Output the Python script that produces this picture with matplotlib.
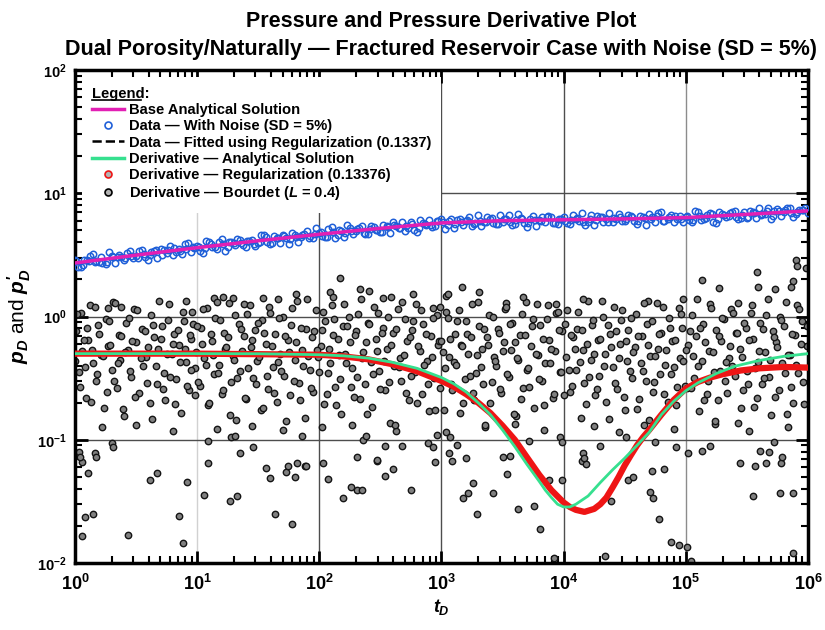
import numpy as np
import matplotlib
matplotlib.use("Agg")
import matplotlib.pyplot as plt
from matplotlib.lines import Line2D
from matplotlib.ticker import LogLocator, NullFormatter, LogFormatterSciNotation

plt.rcParams["font.family"] = ["Liberation Sans", "DejaVu Sans"]
plt.rcParams["font.weight"] = "bold"
plt.rcParams["mathtext.fontset"] = "custom"
plt.rcParams["mathtext.rm"] = "Liberation Sans:bold"
plt.rcParams["mathtext.it"] = "Liberation Sans:bold:italic"
plt.rcParams["mathtext.bf"] = "Liberation Sans:bold"

x_ticks = [1e0, 1e1, 1e2, 1e3, 1e4, 1e5, 1e6]
y_ticks = [1e-2, 1e-1, 1e0, 1e1, 1e2]

# base analytical pD (log10 tD, pD)
base_t_exp = [0.0, 0.5, 1.0, 1.5, 2.0, 2.5, 3.0, 3.5, 4.0, 4.5, 5.0, 5.5, 6.0]
base_pd = [2.72, 3.15, 3.62, 4.12, 4.65, 5.2, 5.75, 6.0, 6.1, 6.2, 6.35, 6.75, 7.2]

# noisy data (log10 tD, pD), three interleaved sets
data_t_exp = [0.00, 0.05, 0.10, 0.15, 0.20, 0.25, 0.30, 0.35, 0.40, 0.45,
              0.50, 0.55, 0.60, 0.65, 0.70, 0.75, 0.80, 0.85, 0.90, 0.95,
              1.00, 1.05, 1.10, 1.15, 1.20, 1.25, 1.30, 1.35, 1.40, 1.45,
              1.50, 1.55, 1.60, 1.65, 1.70, 1.75, 1.80, 1.85, 1.90, 1.95,
              2.00, 2.05, 2.10, 2.15, 2.20, 2.25, 2.30, 2.35, 2.40, 2.45,
              2.50, 2.55, 2.60, 2.65, 2.70, 2.75, 2.80, 2.85, 2.90, 2.95,
              3.00, 3.05, 3.10, 3.15, 3.20, 3.25, 3.30, 3.35, 3.40, 3.45,
              3.50, 3.55, 3.60, 3.65, 3.70, 3.75, 3.80, 3.85, 3.90, 3.95,
              4.00, 4.05, 4.10, 4.15, 4.20, 4.25, 4.30, 4.35, 4.40, 4.45,
              4.50, 4.55, 4.60, 4.65, 4.70, 4.75, 4.80, 4.85, 4.90, 4.95,
              5.00, 5.05, 5.10, 5.15, 5.20, 5.25, 5.30, 5.35, 5.40, 5.45,
              5.50, 5.55, 5.60, 5.65, 5.70, 5.75, 5.80, 5.85, 5.90, 5.95, 6.00]
data_pd = [2.88, 2.54, 2.87, 3.19, 2.77, 2.65, 3.10, 3.02, 2.88, 3.42,
           3.09, 3.46, 2.85, 3.42, 3.54, 3.25, 3.16, 3.55, 3.88, 3.36,
           3.76, 3.30, 4.02, 3.69, 4.28, 3.64, 3.92, 4.21, 3.70, 4.15,
           3.96, 4.59, 3.89, 4.37, 4.59, 3.86, 4.62, 4.40, 4.90, 4.32,
           4.74, 4.43, 5.33, 4.63, 4.38, 5.23, 4.98, 5.44, 4.68, 5.36,
           4.89, 5.47, 5.84, 5.26, 4.99, 5.81, 4.87, 5.70, 6.09, 5.47,
           6.21, 5.55, 5.22, 6.18, 5.97, 5.41, 6.61, 5.81, 6.19, 5.62,
           5.88, 6.61, 5.66, 6.27, 5.32, 6.53, 6.06, 5.83, 6.44, 5.60,
           6.47, 5.62, 6.24, 6.86, 5.89, 5.54, 6.44, 6.17, 5.83, 6.81,
           5.95, 6.59, 5.61, 6.38, 6.76, 5.90, 7.04, 6.18, 5.81, 6.59,
           6.48, 5.88, 7.07, 6.21, 6.90, 5.76, 6.85, 6.50, 7.20, 6.31,
           6.35, 7.07, 7.66, 6.75, 6.24, 7.40, 7.02, 7.64, 6.83, 7.30, 6.91]
data2_t_exp = [0.025, 0.075, 0.125, 0.175, 0.225, 0.275, 0.325, 0.375, 0.425, 0.475,
               0.525, 0.575, 0.625, 0.675, 0.725, 0.775, 0.825, 0.875, 0.925, 0.975,
               1.025, 1.075, 1.125, 1.175, 1.225, 1.275, 1.325, 1.375, 1.425, 1.475,
               1.525, 1.575, 1.625, 1.675, 1.725, 1.775, 1.825, 1.875, 1.925, 1.975,
               2.025, 2.075, 2.125, 2.175, 2.225, 2.275, 2.325, 2.375, 2.425, 2.475,
               2.525, 2.575, 2.625, 2.675, 2.725, 2.775, 2.825, 2.875, 2.925, 2.975,
               3.025, 3.075, 3.125, 3.175, 3.225, 3.275, 3.325, 3.375, 3.425, 3.475,
               3.525, 3.575, 3.625, 3.675, 3.725, 3.775, 3.825, 3.875, 3.925, 3.975,
               4.025, 4.075, 4.125, 4.175, 4.225, 4.275, 4.325, 4.375, 4.425, 4.475,
               4.525, 4.575, 4.625, 4.675, 4.725, 4.775, 4.825, 4.875, 4.925, 4.975,
               5.025, 5.075, 5.125, 5.175, 5.225, 5.275, 5.325, 5.375, 5.425, 5.475,
               5.525, 5.575, 5.625, 5.675, 5.725, 5.775, 5.825, 5.875, 5.925, 5.975]
data2_pd = [2.52, 2.89, 3.11, 2.81, 2.74, 3.32, 2.70, 3.04, 3.26, 3.00,
            3.42, 3.03, 3.34, 2.98, 3.49, 3.75, 3.32, 3.22, 3.98, 3.60,
            3.43, 4.07, 3.68, 4.03, 3.39, 4.06, 4.27, 3.84, 4.13, 3.77,
            4.57, 4.03, 4.51, 3.97, 4.36, 4.76, 4.02, 4.70, 4.48, 5.19,
            4.49, 5.12, 4.31, 4.95, 5.49, 4.66, 5.21, 4.66, 5.43, 5.08,
            5.54, 4.76, 5.45, 5.83, 5.23, 5.07, 6.12, 5.51, 5.33, 5.96,
            5.18, 6.14, 6.04, 5.49, 6.45, 5.77, 5.44, 6.42, 5.72, 6.71,
            6.24, 5.53, 6.74, 5.79, 6.16, 5.45, 6.42, 6.56, 5.72, 6.21,
            5.73, 6.72, 5.98, 5.52, 6.61, 6.52, 5.80, 6.88, 6.18, 5.95,
            6.71, 5.97, 6.49, 5.50, 6.40, 6.91, 5.92, 6.69, 6.20, 5.83,
            6.12, 7.18, 6.06, 6.62, 5.88, 7.10, 6.48, 7.05, 6.15, 7.00,
            7.19, 6.27, 6.73, 7.60, 7.24, 6.58, 7.61, 6.38, 7.28, 7.61]
data3_t_exp = [0.012, 0.062, 0.112, 0.162, 0.212, 0.262, 0.312, 0.362, 0.412, 0.462,
               0.512, 0.562, 0.612, 0.662, 0.712, 0.762, 0.812, 0.862, 0.912, 0.962,
               1.012, 1.062, 1.112, 1.162, 1.212, 1.262, 1.312, 1.362, 1.412, 1.462,
               1.512, 1.562, 1.612, 1.662, 1.712, 1.762, 1.812, 1.862, 1.912, 1.962,
               2.012, 2.062, 2.112, 2.162, 2.212, 2.262, 2.312, 2.362, 2.412, 2.462,
               2.512, 2.562, 2.612, 2.662, 2.712, 2.762, 2.812, 2.862, 2.912, 2.962,
               3.012, 3.062, 3.112, 3.162, 3.212, 3.262, 3.312, 3.362, 3.412, 3.462,
               3.512, 3.562, 3.612, 3.662, 3.712, 3.762, 3.812, 3.862, 3.912, 3.962,
               4.012, 4.062, 4.112, 4.162, 4.212, 4.262, 4.312, 4.362, 4.412, 4.462,
               4.512, 4.562, 4.612, 4.662, 4.712, 4.762, 4.812, 4.862, 4.912, 4.962,
               5.012, 5.062, 5.112, 5.162, 5.212, 5.262, 5.312, 5.362, 5.412, 5.462,
               5.512, 5.562, 5.612, 5.662, 5.712, 5.762, 5.812, 5.862, 5.912, 5.962]
data3_pd = [2.80, 2.62, 2.84, 2.79, 3.03, 2.76, 3.04, 3.14, 2.97, 3.11,
            2.99, 3.23, 3.18, 3.45, 3.14, 3.46, 3.57, 3.38, 3.53, 3.68,
            3.66, 3.60, 3.91, 3.54, 3.90, 4.02, 3.80, 3.97, 4.14, 3.87,
            4.04, 4.38, 3.98, 4.37, 4.50, 4.26, 4.44, 4.62, 4.31, 4.65,
            4.88, 4.43, 4.86, 5.01, 4.72, 4.93, 5.13, 4.79, 5.14, 5.05,
            4.89, 5.37, 5.52, 5.21, 5.42, 5.64, 5.25, 5.65, 5.53, 5.99,
            5.87, 6.01, 5.63, 5.83, 6.03, 5.59, 5.96, 5.81, 6.25, 5.62,
            6.24, 5.83, 6.02, 6.21, 5.74, 6.11, 5.94, 6.37, 5.72, 6.21,
            5.92, 6.11, 6.29, 5.80, 6.20, 6.08, 6.48, 5.81, 6.30, 6.44,
            6.20, 6.41, 5.92, 6.31, 6.13, 6.59, 5.91, 6.44, 6.57, 6.15,
            6.54, 6.07, 6.49, 6.34, 6.84, 6.16, 6.72, 6.90, 6.47, 6.71,
            6.41, 6.87, 6.70, 7.23, 6.51, 7.12, 7.30, 6.86, 7.11, 7.37]

# analytical derivative
deriv_t_exp = [0.0, 1.0, 1.5, 2.0, 2.2, 2.4, 2.6, 2.8, 3.0, 3.1, 3.2, 3.3, 3.4, 3.5, 3.6, 3.7,
               3.8, 3.85, 3.9, 3.95, 4.0, 4.05, 4.1, 4.2, 4.3, 4.4, 4.5, 4.6, 4.7, 4.8, 4.9,
               5.0, 5.1, 5.25, 5.4, 5.6, 5.8, 6.0]
deriv_pd = [0.500, 0.500, 0.499, 0.49, 0.48, 0.46, 0.425, 0.38, 0.32, 0.285, 0.245, 0.20, 0.16,
            0.12, 0.088, 0.063, 0.046, 0.039, 0.034, 0.030, 0.0285, 0.0285, 0.030, 0.035, 0.045,
            0.057, 0.071, 0.09, 0.115, 0.16, 0.205, 0.25, 0.29, 0.345, 0.395, 0.44, 0.475, 0.50]

# regularization derivative
reg_t_exp = [0.0, 1.0, 2.0, 2.2, 2.4, 2.6, 2.8, 3.0, 3.1, 3.2, 3.3, 3.4, 3.5, 3.6, 3.7, 3.8,
             3.9, 4.0, 4.05, 4.1, 4.17, 4.25, 4.3, 4.35, 4.4, 4.45, 4.5, 4.55, 4.6, 4.65, 4.7,
             4.8, 4.9, 5.0, 5.1, 5.2, 5.3, 5.45, 5.6, 5.8, 6.0]
reg_pd = [0.50, 0.50, 0.49, 0.475, 0.45, 0.41, 0.36, 0.30, 0.27, 0.235, 0.20, 0.165, 0.13, 0.10,
          0.072, 0.052, 0.039, 0.031, 0.0285, 0.027, 0.026, 0.0275, 0.030, 0.034, 0.041, 0.050,
          0.062, 0.075, 0.09, 0.105, 0.12, 0.16, 0.21, 0.26, 0.295, 0.32, 0.34, 0.365, 0.38,
          0.39, 0.385]

# Bourdet derivative points (log10 tD, log10 p'D)
bourdet_cloud = [
    (0.01, -0.12), (0.03, -0.45), (0.05, 0.03), (0.06, -0.28), (0.09, -0.66), (0.11, -0.19), (0.12, 0.09),
    (0.15, -0.38), (0.17, -0.52), (0.19, -0.07), (0.21, -0.31), (0.24, -0.74), (0.25, -0.02), (0.27, -0.24),
    (0.30, -0.43), (0.31, 0.12), (0.34, -0.58), (0.36, -0.15), (0.37, -0.35), (0.40, -0.81), (0.42, -0.05),
    (0.43, -0.27), (0.46, -0.49), (0.48, 0.06), (0.50, -0.21), (0.52, -0.62), (0.55, -0.10), (0.56, -0.40),
    (0.58, -0.33), (0.61, -0.70), (0.62, 0.01), (0.65, -0.17), (0.67, -0.55), (0.68, -0.26), (0.71, -0.08),
    (0.73, -0.46), (0.74, -0.68), (0.77, 0.10), (0.79, -0.30), (0.81, -0.14), (0.83, -0.51), (0.85, -0.23),
    (0.87, -0.78), (0.89, -0.04), (0.91, -0.37), (0.93, -0.60), (0.95, -0.18), (0.96, 0.04), (0.98, -0.42),
    (0.99, -0.29),
    (1.02, -0.56), (1.03, -0.09), (1.06, -0.34), (1.08, 0.07), (1.09, -0.72), (1.12, -0.20), (1.14, -0.47),
    (1.15, -0.01), (1.18, -0.39), (1.20, -0.63), (1.22, -0.13), (1.23, -0.26), (1.26, 0.11), (1.28, -0.53),
    (1.29, -0.32), (1.32, -0.84), (1.34, -0.06), (1.35, -0.44), (1.38, -0.16), (1.40, -0.67), (1.41, 0.02),
    (1.44, -0.25), (1.46, -0.50), (1.47, -0.11), (1.49, -0.36), (1.52, -0.76), (1.53, -0.03), (1.56, -0.22),
    (1.58, -0.59), (1.59, 0.08), (1.62, -0.41), (1.64, -0.14), (1.65, -0.69), (1.68, -0.30), (1.70, 0.00),
    (1.71, -0.48), (1.74, -0.19), (1.76, -0.64), (1.77, -0.07), (1.80, -0.35), (1.82, 0.13), (1.83, -0.54),
    (1.86, -0.27), (1.88, -0.82), (1.89, -0.10), (1.92, -0.43), (1.94, -0.17), (1.95, -0.61), (1.97, 0.05),
    (1.99, -0.33),
    (2.01, -0.24), (2.04, -0.71), (2.05, -0.04), (2.07, -0.46), (2.10, 0.09), (2.11, -0.15), (2.13, -0.57),
    (2.16, -0.31), (2.18, -0.79), (2.19, -0.08), (2.22, -0.38), (2.24, 0.00), (2.25, -0.21), (2.28, -0.65),
    (2.30, -0.12), (2.31, -0.49), (2.34, 0.14), (2.36, -0.29), (2.37, -0.55), (2.40, -0.05), (2.42, -0.37),
    (2.43, -0.73), (2.46, -0.18), (2.48, 0.03), (2.49, -0.44), (2.52, -0.09), (2.54, -0.60), (2.55, -0.26),
    (2.58, -0.86), (2.60, -0.13), (2.61, -0.40), (2.64, 0.06), (2.66, -0.34), (2.67, -0.52), (2.70, -0.02),
    (2.72, -0.20), (2.73, -0.68), (2.76, -0.11), (2.78, -0.45), (2.79, 0.10), (2.82, -0.28), (2.84, -0.63),
    (2.85, -0.06), (2.88, -0.36), (2.90, -0.77), (2.91, -0.16), (2.94, -0.50), (2.96, 0.01), (2.97, -0.23),
    (2.99, -0.58),
    (3.01, -0.29), (3.03, -0.42), (3.04, 0.04), (3.07, -0.18), (3.09, -0.60), (3.10, -0.37), (3.13, -0.04),
    (3.15, -0.78), (3.16, -0.23), (3.19, -0.51), (3.21, -0.14), (3.22, -0.30), (3.25, 0.10), (3.27, -0.68),
    (3.28, -0.46), (3.31, -0.08), (3.33, -0.26), (3.34, -0.55), (3.37, -0.17), (3.39, 0.01), (3.40, -0.70),
    (3.43, -0.33), (3.45, -0.40), (3.46, -0.10), (3.49, -0.62), (3.51, -0.21), (3.52, 0.06), (3.55, -0.49),
    (3.57, -0.27), (3.58, -0.05), (3.61, -0.81), (3.63, -0.35), (3.64, -0.15), (3.67, -0.58), (3.69, 0.12),
    (3.70, -0.43), (3.73, -0.24), (3.75, -0.02), (3.76, -0.74), (3.79, -0.31), (3.81, -0.07), (3.82, -0.52),
    (3.85, -0.38), (3.87, 0.09), (3.88, -0.19), (3.91, -0.66), (3.93, -0.28), (3.94, 0.03), (3.97, -0.45),
    (3.99, -0.12),
    (4.02, -0.33), (4.03, 0.05), (4.05, -0.61), (4.08, -0.17), (4.10, -0.43), (4.11, -0.10), (4.14, -0.82),
    (4.16, -0.27), (4.17, -0.54), (4.20, 0.13), (4.22, -0.35), (4.23, -0.07), (4.26, -0.64), (4.28, -0.19),
    (4.29, -0.48), (4.32, 0.00), (4.34, -0.30), (4.35, -0.69), (4.38, -0.14), (4.40, -0.41), (4.41, 0.08),
    (4.44, -0.59), (4.46, -0.22), (4.47, -0.03), (4.50, -0.76), (4.52, -0.36), (4.53, -0.11), (4.56, -0.50),
    (4.58, -0.25), (4.59, 0.02), (4.62, -0.67), (4.64, -0.16), (4.65, -0.44), (4.68, -0.06), (4.70, -0.84),
    (4.71, -0.32), (4.74, -0.53), (4.76, 0.11), (4.77, -0.26), (4.80, -0.13), (4.82, -0.63), (4.83, -0.39),
    (4.86, -0.01), (4.88, -0.47), (4.89, -0.20), (4.92, -0.72), (4.94, 0.07), (4.95, -0.34), (4.97, -0.09),
    (4.99, -0.56),
    (5.01, -0.58), (5.02, -0.23), (5.05, 0.01), (5.07, -0.50), (5.08, -0.16), (5.11, -0.77), (5.13, -0.36),
    (5.14, -0.06), (5.17, -0.63), (5.19, -0.28), (5.20, 0.10), (5.23, -0.45), (5.25, -0.11), (5.26, -0.68),
    (5.29, -0.20), (5.31, -0.02), (5.32, -0.52), (5.35, -0.34), (5.37, 0.06), (5.38, -0.40), (5.41, -0.13),
    (5.43, -0.86), (5.44, -0.26), (5.47, -0.60), (5.49, -0.09), (5.50, -0.44), (5.53, 0.03), (5.55, -0.18),
    (5.56, -0.73), (5.59, -0.37), (5.61, -0.05), (5.62, -0.55), (5.65, -0.29), (5.67, 0.14), (5.68, -0.49),
    (5.71, -0.12), (5.73, -0.65), (5.74, -0.21), (5.77, 0.00), (5.79, -0.38), (5.80, -0.08), (5.83, -0.79),
    (5.85, -0.31), (5.86, -0.57), (5.89, -0.15), (5.91, 0.09), (5.92, -0.46), (5.95, -0.04), (5.97, -0.71),
    (5.99, -0.24),
]
cloud2_t_exp = [
    0.00, 0.02, 0.04, 0.07, 0.08, 0.10, 0.13, 0.14, 0.16, 0.18, 0.20, 0.23, 0.26, 0.28, 0.29, 0.32, 0.33,
    0.35, 0.38, 0.39, 0.41, 0.44, 0.45, 0.47, 0.49, 0.51, 0.54, 0.57, 0.59, 0.60, 0.63, 0.64, 0.66, 0.69,
    0.70, 0.72, 0.75, 0.76, 0.78, 0.80, 0.82, 0.84, 0.86, 0.88, 0.90, 0.92, 0.94, 0.95, 0.97, 0.98,
    1.00, 1.01, 1.04, 1.05, 1.07, 1.10, 1.11, 1.13, 1.16, 1.17, 1.19, 1.21, 1.24, 1.25, 1.27, 1.30, 1.31,
    1.33, 1.36, 1.37, 1.39, 1.42, 1.43, 1.45, 1.48, 1.50, 1.51, 1.54, 1.55, 1.57, 1.60, 1.61, 1.63, 1.66,
    1.67, 1.69, 1.72, 1.73, 1.75, 1.78, 1.79, 1.81, 1.84, 1.85, 1.87, 1.90, 1.91, 1.93, 1.96, 1.98,
    2.00, 2.02, 2.03, 2.06, 2.08, 2.09, 2.12, 2.14, 2.15, 2.17, 2.20, 2.21, 2.23, 2.26, 2.27, 2.29, 2.32,
    2.33, 2.35, 2.38, 2.39, 2.41, 2.44, 2.45, 2.47, 2.50, 2.51, 2.53, 2.56, 2.57, 2.59, 2.62, 2.63, 2.65,
    2.68, 2.69, 2.71, 2.74, 2.75, 2.77, 2.80, 2.81, 2.83, 2.86, 2.87, 2.89, 2.92, 2.93, 2.95, 2.98,
    3.00, 3.02, 3.05, 3.06, 3.08, 3.11, 3.12, 3.14, 3.17, 3.18, 3.20, 3.23, 3.24, 3.26, 3.29, 3.30, 3.32,
    3.35, 3.36, 3.38, 3.41, 3.42, 3.44, 3.47, 3.48, 3.50, 3.53, 3.54, 3.56, 3.59, 3.60, 3.62, 3.65, 3.66,
    3.68, 3.71, 3.72, 3.74, 3.77, 3.78, 3.80, 3.83, 3.84, 3.86, 3.89, 3.90, 3.92, 3.95, 3.96, 3.98,
    4.00, 4.01, 4.04, 4.06, 4.07, 4.09, 4.12, 4.13, 4.15, 4.18, 4.19, 4.21, 4.24, 4.25, 4.27, 4.30, 4.31,
    4.33, 4.36, 4.37, 4.39, 4.42, 4.43, 4.45, 4.48, 4.49, 4.51, 4.54, 4.55, 4.57, 4.60, 4.61, 4.63, 4.66,
    4.67, 4.69, 4.72, 4.73, 4.75, 4.78, 4.79, 4.81, 4.84, 4.85, 4.87, 4.90, 4.91, 4.93, 4.96, 4.98,
    5.00, 5.03, 5.04, 5.06, 5.09, 5.10, 5.12, 5.15, 5.16, 5.18, 5.21, 5.22, 5.24, 5.27, 5.28, 5.30, 5.33,
    5.34, 5.36, 5.39, 5.40, 5.42, 5.45, 5.46, 5.48, 5.51, 5.52, 5.54, 5.57, 5.58, 5.60, 5.63, 5.64, 5.66,
    5.69, 5.70, 5.72, 5.75, 5.76, 5.78, 5.81, 5.82, 5.84, 5.87, 5.88, 5.90, 5.93, 5.94, 5.96, 5.99,
]
cloud2_p_exp = [
    -0.36, 0.02, -0.57, -0.19, -0.41, -0.09, -0.69, -0.27, 0.08, -0.47, -0.14, -0.32, -0.61, -0.04, -0.23,
    -0.52, 0.11, -0.38, -0.16, -0.75, -0.29, -0.01, -0.44, -0.20, -0.65, 0.05, -0.34, -0.12, -0.54, -0.25,
    -0.83, -0.07, -0.40, 0.13, -0.18, -0.59, -0.30, -0.03, -0.49, -0.22, -0.71, -0.11, -0.37, 0.04, -0.26,
    -0.56, -0.15, -0.43, -0.06, -0.64,
    -0.08, -0.53, -0.22, 0.06, -0.39, -0.70, -0.14, -0.31, 0.12, -0.46, -0.03, -0.60, -0.25, -0.17, -0.80,
    -0.35, 0.01, -0.50, -0.10, -0.28, -0.66, -0.42, 0.09, -0.19, -0.55, -0.05, -0.33, -0.74, -0.13, -0.48,
    0.03, -0.24, -0.62, -0.37, -0.01, -0.44, -0.16, -0.85, -0.29, 0.07, -0.52, -0.21, -0.68, -0.09, -0.40,
    0.14, -0.32, -0.58, -0.12, -0.27,
    -0.45, -0.11, 0.04, -0.63, -0.26, -0.38, -0.02, -0.72, -0.18, -0.51, 0.10, -0.30, -0.08, -0.57, -0.42,
    -0.15, 0.02, -0.67, -0.34, -0.21, -0.79, -0.06, -0.47, 0.08, -0.28, -0.59, -0.13, -0.36, -0.00, -0.53,
    -0.23, -0.88, -0.10, -0.41, 0.12, -0.31, -0.62, -0.17, -0.48, -0.04, -0.70, -0.24, 0.05, -0.39, -0.14,
    -0.55, -0.33, -0.01, -0.76, -0.20,
    -0.20, -0.76, -0.01, -0.33, -0.55, -0.14, -0.39, 0.05, -0.24, -0.70, -0.04, -0.48, -0.17, -0.62, -0.31,
    0.12, -0.41, -0.10, -0.88, -0.23, -0.53, -0.00, -0.36, -0.13, -0.59, -0.28, 0.08, -0.47, -0.06, -0.79,
    -0.21, -0.34, -0.67, 0.02, -0.15, -0.42, -0.57, -0.08, -0.30, 0.10, -0.51, -0.18, -0.72, -0.02, -0.38,
    -0.26, -0.63, 0.04, -0.11, -0.45,
    -0.64, -0.06, -0.43, -0.15, -0.56, -0.26, 0.04, -0.37, -0.11, -0.71, -0.22, -0.49, -0.03, -0.30, -0.59,
    -0.18, 0.13, -0.40, -0.07, -0.83, -0.25, -0.54, -0.12, -0.34, 0.05, -0.65, -0.20, -0.44, -0.01, -0.29,
    -0.75, -0.16, -0.38, 0.11, -0.52, -0.23, -0.04, -0.61, -0.32, -0.14, -0.47, 0.08, -0.27, -0.69, -0.09,
    -0.41, -0.19, -0.57, 0.02, -0.36,
    -0.27, -0.12, -0.58, -0.32, 0.14, -0.40, -0.09, -0.68, -0.21, -0.52, 0.07, -0.29, -0.85, -0.16, -0.44,
    -0.01, -0.37, -0.62, -0.24, 0.03, -0.48, -0.13, -0.74, -0.33, -0.05, -0.55, -0.19, 0.09, -0.42, -0.66,
    -0.28, -0.10, -0.50, 0.01, -0.35, -0.80, -0.17, -0.25, -0.60, -0.03, -0.46, 0.12, -0.31, -0.14, -0.70,
    -0.39, 0.06, -0.22, -0.53, -0.08,
]
bourdet_high = [
    (5.90, 0.46), (5.91, 0.41), (5.98, 0.39), (5.58, 0.36), (5.13, 0.30), (5.88, 0.29), (5.27, 0.23),
    (5.59, 0.24), (5.73, 0.22), (5.86, 0.24), (3.17, 0.24), (3.31, 0.20), (2.77, 0.18), (3.04, 0.17),
    (3.67, 0.16), (4.16, 0.14), (4.69, 0.13), (4.98, 0.14), (3.53, 0.11), (3.94, 0.10), (5.43, 0.11),
    (2.17, 0.31), (2.33, 0.22), (2.41, 0.21), (3.05, 0.18), (0.91, 0.13), (1.14, 0.15), (1.21, 0.16),
    (1.29, 0.15), (1.54, 0.15), (1.66, 0.14), (1.81, 0.18), (2.09, 0.20), (2.11, 0.16), (2.52, 0.15),
    (2.59, 0.16), (2.93, 0.07), (0.27, 0.07), (0.38, 0.08), (1.38, 0.10), (2.99, 0.08),
]
bourdet_low = [
    (0.06, -1.18), (0.11, -1.27), (0.08, -1.63), (0.15, -1.60), (0.06, -1.78), (0.43, -1.77), (0.61, -1.33),
    (0.67, -1.27), (0.85, -1.62), (0.88, -1.84), (0.92, -1.34), (1.09, -1.19), (1.06, -1.45), (1.27, -1.50),
    (1.33, -1.46), (1.56, -1.23), (1.60, -1.31), (1.64, -1.60), (1.73, -1.26), (1.74, -1.21), (1.78, -1.68),
    (1.80, -1.30), (1.82, -1.19), (1.88, -1.21), (2.03, -1.19), (2.07, -1.32), (2.19, -1.47), (2.26, -1.38),
    (2.31, -1.41), (2.35, -1.41), (2.47, -1.17), (2.54, -1.29), (2.60, -1.24), (2.75, -1.41), (2.95, -1.18),
    (3.09, -1.17), (3.54, -1.28), (3.18, -1.47), (3.22, -1.43), (3.26, -1.35), (3.29, -1.60), (3.42, -1.43),
    (3.63, -1.56), (3.76, -1.54), (3.81, -1.72), (3.88, -1.33), (3.99, -1.33), (3.92, -1.96), (4.15, -1.17),
    (4.18, -1.20), (4.34, -1.94), (4.39, -1.50), (4.53, -1.33), (4.57, -1.30), (4.72, -1.25), (4.82, -1.24),
    (4.71, -1.42), (4.73, -1.47), (4.78, -1.64), (4.88, -1.83), (4.94, -1.85), (5.01, -1.87), (5.04, -1.98),
    (5.44, -1.19), (5.57, -1.21), (5.66, -1.19), (5.78, -1.19), (5.55, -1.46), (5.77, -1.43), (5.88, -1.43),
    (5.88, -1.92),
    (0.03, -1.10), (0.04, -1.14), (0.16, -1.11), (0.17, -1.14), (0.30, -1.03), (0.31, -1.06), (1.09, -1.01),
    (1.28, -0.98), (1.31, -0.97), (1.35, -1.11), (1.46, -1.06), (1.86, -0.97), (1.89, -1.21), (2.31, -1.14),
    (2.36, -1.00), (2.38, -0.97), (2.47, -1.16), (2.54, -1.05), (2.68, -1.05), (2.89, -1.03), (2.93, -1.06),
    (2.96, -0.96), (3.04, -0.94), (3.07, -0.98), (3.06, -1.11), (3.13, -1.04), (3.20, -1.15), (3.50, -1.14),
    (3.56, -1.13), (3.72, -1.01), (3.97, -0.98), (3.99, -1.02), (4.16, -1.11), (4.17, -1.15), (4.30, -1.05),
    (4.51, -0.98), (4.75, -1.02), (4.92, -1.06), (5.02, -1.11), (5.13, -1.09), (5.20, -1.05), (5.61, -1.09),
    (5.68, -1.10), (5.72, -1.02), (5.79, -1.14),
    (0.22, -0.90), (0.50, -0.88), (0.80, -0.93), (1.16, -0.91), (1.45, -0.89), (1.70, -0.92), (2.02, -0.90),
    (2.27, -0.88), (2.63, -0.93), (3.36, -0.90), (3.60, -0.87), (3.84, -0.92), (4.25, -0.89), (4.45, -0.94),
    (4.66, -0.88), (4.90, -0.91), (5.24, -0.87), (5.52, -0.93), (5.84, -0.90),
]

magenta = "#e21fb4"
blue = "#1f5fd8"
green = "#36e08f"
red = "#ee1515"

fig = plt.figure(figsize=(8.25, 6.3), dpi=100)
ax = fig.add_axes([0.0909, 0.1063, 0.8885, 0.7825])

bd = np.array(bourdet_cloud + bourdet_high + bourdet_low)
bt = np.concatenate([bd[:, 0], cloud2_t_exp])
bp = np.concatenate([bd[:, 1], cloud2_p_exp])
ax.plot(10 ** bt, 10 ** bp, ls="none", marker="o", ms=4.6, mfc="0.5", mec="0.08",
        mew=1.0, zorder=2)

data_t = 10 ** np.array(data_t_exp + data2_t_exp + data3_t_exp)
ax.plot(data_t, data_pd + data2_pd + data3_pd, ls="none", marker="o",
        ms=4.6, mfc="none", mec=blue, mew=1.1, zorder=3)

base_t = 10 ** np.array(base_t_exp)
ax.plot(base_t, base_pd, color="k", ls="--", lw=1.5, zorder=4)
ax.plot(base_t, base_pd, color=magenta, lw=2.5, zorder=5)

ax.plot(10 ** np.array(reg_t_exp), reg_pd, color=red, lw=4.5, solid_capstyle="round",
        solid_joinstyle="round", zorder=6)
ax.plot(10 ** np.array(deriv_t_exp), deriv_pd, color=green, lw=2, solid_joinstyle="round", zorder=7)

ax.set_xscale("log")
ax.set_yscale("log")
ax.set_xticks(x_ticks)
ax.set_yticks(y_ticks)
ax.xaxis.set_major_formatter(LogFormatterSciNotation())
ax.yaxis.set_major_formatter(LogFormatterSciNotation())
ax.xaxis.set_minor_locator(LogLocator(base=10, subs=np.arange(2, 10), numticks=20))
ax.yaxis.set_minor_locator(LogLocator(base=10, subs=np.arange(2, 10), numticks=20))
ax.xaxis.set_minor_formatter(NullFormatter())
ax.yaxis.set_minor_formatter(NullFormatter())
ax.set_xlim(1, 1e6)
ax.set_ylim(1e-2, 1e2)

ax.grid(True, which="major", color="0.3", lw=1.0)
ax.set_axisbelow(True)
fig.canvas.draw()
# a few vertical grid lines are lighter in the original
for tick in ax.xaxis.get_major_ticks():
    loc = tick.get_loc()
    if np.isclose(loc, 10):
        tick.gridline.set_color("0.82")
    elif np.isclose(loc, 1e5):
        tick.gridline.set_color("0.55")
ax.tick_params(which="both", direction="in", top=True, right=True)
ax.tick_params(which="major", length=9, width=2)
ax.tick_params(which="minor", length=5, width=1.5)
ax.tick_params(axis="x", labelsize=13, pad=8)
ax.tick_params(axis="y", labelsize=10.5, pad=6)
for s in ax.spines.values():
    s.set_linewidth(2.5)

ax.set_xlabel(r"$t_D$", fontsize=13, labelpad=2)
ax.set_ylabel(r"$p_D$ and $p^{\prime}_D$", fontsize=15, labelpad=3)
ax.set_title("Pressure and Pressure Derivative Plot\n"
             "Dual Porosity/Naturally \u2014 Fractured Reservoir Case with Noise (SD = 5%)",
             fontsize=15.5, fontweight="bold", pad=11, linespacing=1.45)

handles = [
    Line2D([], [], color=magenta, lw=2.5),
    Line2D([], [], ls="none", marker="o", ms=5, mfc="none", mec=blue, mew=1.2),
    Line2D([], [], color="k", ls="--", lw=1.8),
    Line2D([], [], color=green, lw=2.5),
    Line2D([], [], ls="none", marker="o", ms=5, mfc="0.7", mec=red, mew=1.2),
    Line2D([], [], ls="none", marker="o", ms=5, mfc="0.7", mec="k", mew=1.2),
]
labels = [
    "Base Analytical Solution",
    "Data \u2014 With Noise (SD = 5%)",
    "Data \u2014 Fitted using Regularization (0.1337)",
    "Derivative \u2014 Analytical Solution",
    "Derivative \u2014 Regularization (0.13376)",
    "Derivative \u2014 Bourdet ($L$ = 0.4)",
]
leg = ax.legend(handles, labels, loc="upper left", bbox_to_anchor=(0.0, 1.0), borderaxespad=0.45,
                title="Legend:", alignment="left", fontsize=10.6, title_fontsize=10.6,
                frameon=True, framealpha=1, edgecolor="none", fancybox=False,
                handlelength=2.2, handletextpad=0.3, labelspacing=0.15, borderpad=0.7)
leg.get_title().set_fontweight("bold")
leg.set_zorder(10)

fig.canvas.draw()
tb = leg.get_title().get_window_extent()
W, H = fig.bbox.width, fig.bbox.height
x0 = tb.x0
x1 = tb.x0 + tb.width * 0.86
yl = tb.y0 + 0.5
fig.add_artist(Line2D([x0 / W, x1 / W], [yl / H, yl / H], transform=fig.transFigure,
                      color="k", lw=1.2, zorder=20))

fig.savefig("out.png", dpi=100)
